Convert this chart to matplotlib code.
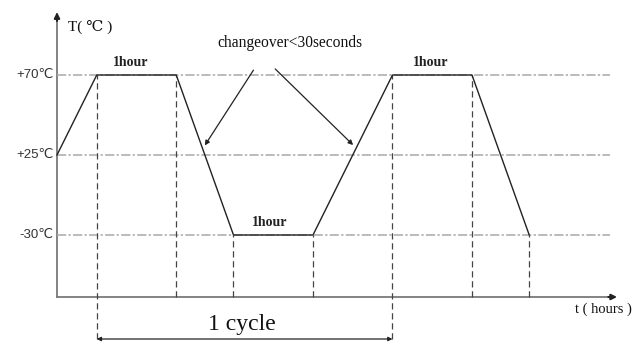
import matplotlib.pyplot as plt

# temperature cycle profile (time in hours, temperatures in deg C)
times = [0, 0.5, 1.5, 2.22, 3.22, 4.22, 5.22, 5.94]
temps = [25, 70, 70, -30, -30, 70, 70, -30]
level_temps = [70, 25, -30]
level_labels = ['+70\u2103', '+25\u2103', '-30\u2103']
hold_label_pos = [(0.93, 70), (2.68, -30), (4.7, 70)]
cycle_start, cycle_end = 0.5, 4.22

# schematic (non linear) temperature axis
level_of = {70: 2, 25: 1, -30: 0}
ys = [level_of[t] for t in temps]

serif = ['Liberation Serif', 'DejaVu Serif']
sans = ['Liberation Sans', 'DejaVu Sans']

fig = plt.figure(figsize=(6.41, 3.44), dpi=100)
ax = fig.add_axes([0, 0, 1, 1])
ax.set_xlim(-57 / 79.5, (641 - 57) / 79.5)
ax.set_ylim(-109 / 80, 235 / 80)
ax.axis('off')

x_axis_y = -0.775
x_end = 7.0
y_top = 2.76

# axes
ax.plot([0, 0], [x_axis_y, y_top], color='#7a7a7a', lw=1.3)
ax.plot([0, x_end], [x_axis_y, x_axis_y], color='#7a7a7a', lw=1.3)
ax.annotate('', xy=(0, y_top + 0.06), xytext=(0, y_top - 0.12),
            arrowprops=dict(arrowstyle='-|>', color='#222222', lw=1.5, mutation_scale=8))
ax.annotate('', xy=(x_end + 0.08, x_axis_y), xytext=(x_end - 0.1, x_axis_y),
            arrowprops=dict(arrowstyle='-|>', color='#222222', lw=1.5, mutation_scale=8))

# reference levels
for lv, lab in zip(level_temps, level_labels):
    y = level_of[lv]
    ax.plot([0, 6.95], [y, y], color='#a8a8a8', lw=1.1, dashes=(6, 1.5, 1.5, 1.5))
    ax.text(-0.04, y, lab, ha='right', va='center', fontsize=9.5, family=sans, color='#333333')

# dashed verticals at each corner
for i in range(1, len(times)):
    x = times[i]
    y0 = x_axis_y
    if x in (cycle_start, cycle_end):
        y0 = -1.3
    ax.plot([x, x], [y0, ys[i]], color='#444444', lw=0.9, dashes=(5, 3))

# profile
ax.plot(times, ys, color='#222222', lw=1.0)

for x, t in hold_label_pos:
    ax.text(x, level_of[t] + 0.07, '1hour', ha='center', va='bottom', fontsize=10,
            family=serif, weight='bold', color='#222222')

# changeover note
ax.text(2.93, 2.4, 'changeover<30seconds', ha='center', va='center', fontsize=11.2,
        family=serif, color='#111111')
ax.annotate('', xy=(1.84, 1.09), xytext=(2.49, 2.09),
            arrowprops=dict(arrowstyle='-|>', color='#222222', lw=0.9, mutation_scale=7))
ax.annotate('', xy=(3.75, 1.10), xytext=(2.72, 2.10),
            arrowprops=dict(arrowstyle='-|>', color='#222222', lw=0.9, mutation_scale=7))

# axis labels
ax.text(0.14, 2.6, 'T( \u2103 )', ha='left', va='center', fontsize=11,
        family=serif, color='#111111')
ax.text(6.87, x_axis_y - 0.15, 't ( hours )', ha='center', va='center', fontsize=10.5,
        family=serif, color='#111111')

# cycle span
ax.annotate('', xy=(cycle_start, -1.3), xytext=(cycle_end, -1.3),
            arrowprops=dict(arrowstyle='<|-|>', color='#222222', lw=0.9, mutation_scale=6,
                            shrinkA=0, shrinkB=0))
ax.text((cycle_start + cycle_end) / 2 - 0.04, -1.12, '1 cycle', ha='center', va='center',
        fontsize=17, family=serif, color='#111111')

fig.savefig('out.png', dpi=100)
